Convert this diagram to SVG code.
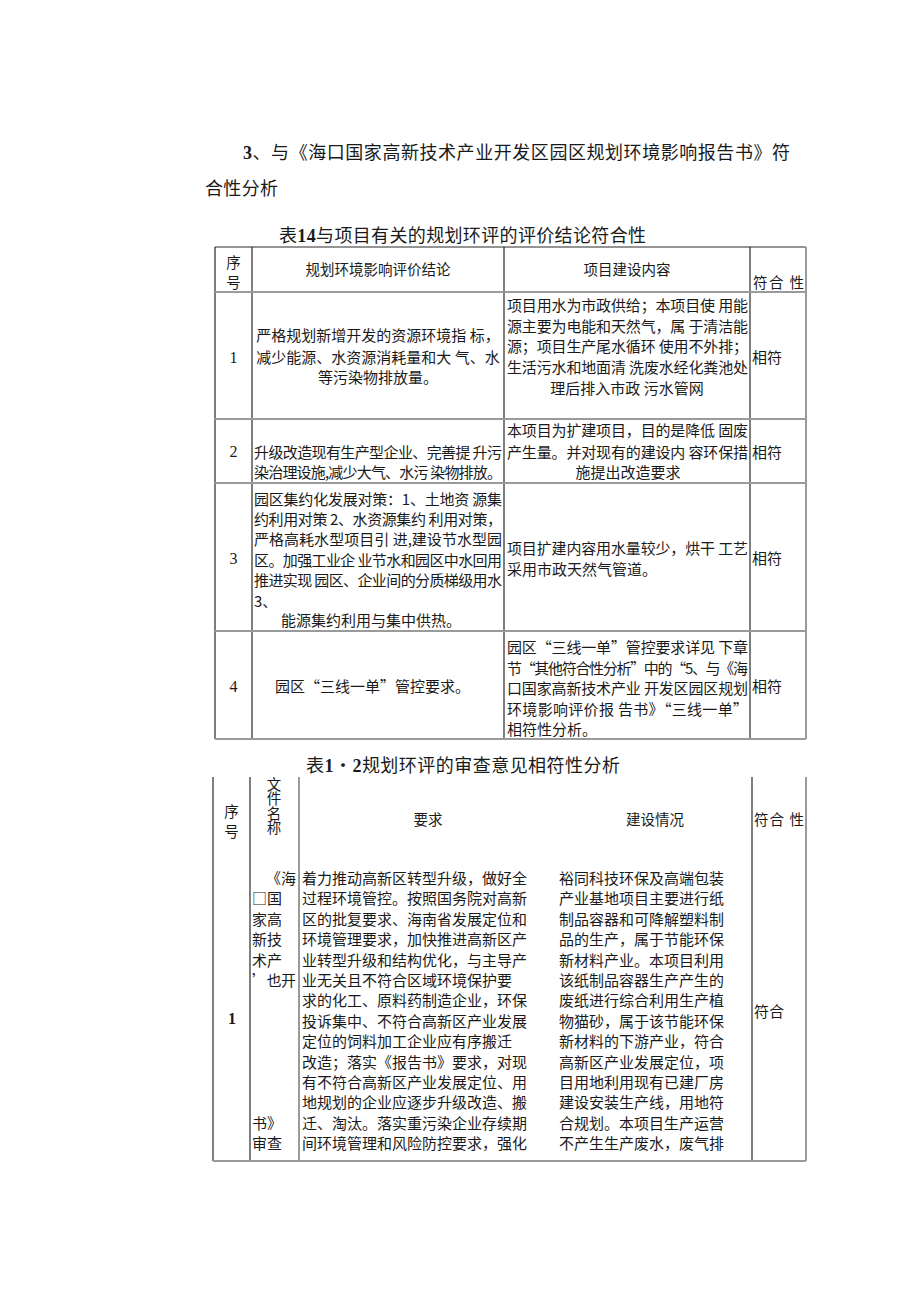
<svg xmlns="http://www.w3.org/2000/svg" width="920" height="1301" viewBox="0 0 920 1301">
<style>
text { font-family: "Noto Sans CJK SC", sans-serif; fill: #1a1a1a; }
.h { font-size: 18px; }
.hd { font-size: 14.5px; }
.b { font-size: 15px; }
.n { font-family: "Liberation Serif", "Noto Sans CJK SC", serif; font-size: 16px; text-anchor: middle; }
.nb { font-family: "Liberation Serif", "Noto Sans CJK SC", serif; font-weight: bold; }
.c { text-anchor: middle; }
.v { writing-mode: vertical-rl; text-orientation: upright; }
.dk { stroke: #2a2a2a; stroke-width: 1.2; fill: none; }
.gr { stroke: #9a9a9a; stroke-width: 2; fill: none; }
</style>
<rect width="920" height="1301" fill="#ffffff"/>

<g id="heading">
<text class="h" x="243" y="159" textLength="547" lengthAdjust="spacing"><tspan class="nb">3</tspan>、与《海口国家高新技术产业开发区园区规划环境影响报告书》符</text>
<text class="h" x="205" y="195" textLength="73" lengthAdjust="spacing">合性分析</text>
</g>

<g id="table1-title">
<text class="h" x="279" y="242" textLength="367" lengthAdjust="spacing">表<tspan class="nb">14</tspan>与项目有关的规划环评的评价结论符合性</text>
</g>

<g id="table1-lines">
<path class="dk" d="M215 247H806M215 247V739M252 247V739M504 247V739M750 247V739"/>
<path class="gr" d="M806 247V739M215 292H806M215 419H806M215 483H806M215 631H806M215 739H806"/>
</g>

<g id="table1-header">
<text class="hd c" x="233.5" y="268">序</text>
<text class="hd c" x="233.5" y="288">号</text>
<text class="hd c" x="378" y="275">规划环境影响评价结论</text>
<text class="hd c" x="627" y="275">项目建设内容</text>
<text class="hd" x="753" y="288" textLength="51" lengthAdjust="spacing">符合 性</text>
</g>

<g id="t1-row1">
<text class="n" x="233.5" y="363">1</text>
<text class="b c" x="378" y="341">严格规划新增开发的资源环境指 标，</text>
<text class="b c" x="378" y="363">减少能源、水资源消耗量和大 气、水</text>
<text class="b c" x="378" y="383">等污染物排放量。</text>
<text class="b" x="507" y="311" textLength="241" lengthAdjust="spacing">项目用水为市政供给；本项目使 用能</text>
<text class="b" x="507" y="332" textLength="241" lengthAdjust="spacing">源主要为电能和天然气，属 于清洁能</text>
<text class="b" x="507" y="352" textLength="241" lengthAdjust="spacing">源；项目生产尾水循环 使用不外排；</text>
<text class="b" x="507" y="373" textLength="241" lengthAdjust="spacing">生活污水和地面清 洗废水经化粪池处</text>
<text class="b c" x="627" y="394">理后排入市政 污水管网</text>
<text class="b" x="752" y="363">相符</text>
</g>

<g id="t1-row2">
<text class="n" x="233.5" y="457">2</text>
<text class="b" x="254" y="458" textLength="248" lengthAdjust="spacing">升级改造现有生产型企业、完善提 升污</text>
<text class="b" x="254" y="478" textLength="248" lengthAdjust="spacing">染治理设施,减少大气、水污 染物排放。</text>
<text class="b" x="507" y="436" textLength="241" lengthAdjust="spacing">本项目为扩建项目，目的是降低 固废</text>
<text class="b" x="507" y="458" textLength="241" lengthAdjust="spacing">产生量。并对现有的建设内 容环保措</text>
<text class="b c" x="628" y="478">施提出改造要求</text>
<text class="b" x="752" y="458">相符</text>
</g>

<g id="t1-row3">
<text class="n" x="233.5" y="564">3</text>
<text class="b" x="254" y="505" textLength="248" lengthAdjust="spacing">园区集约化发展对策：1、土地资 源集</text>
<text class="b" x="254" y="525" textLength="248" lengthAdjust="spacing">约利用对策 2、水资源集约 利用对策，</text>
<text class="b" x="254" y="545" textLength="248" lengthAdjust="spacing">严格高耗水型项目引 进,建设节水型园</text>
<text class="b" x="254" y="566" textLength="248" lengthAdjust="spacing">区。加强工业企 业节水和园区中水回用</text>
<text class="b" x="254" y="586" textLength="248" lengthAdjust="spacing">推进实现 园区、企业间的分质梯级用水</text>
<text class="b" x="254" y="607">3、</text>
<text class="b" x="281" y="626">能源集约利用与集中供热。</text>
<text class="b" x="507" y="554" textLength="241" lengthAdjust="spacing">项目扩建内容用水量较少，烘干 工艺</text>
<text class="b" x="507" y="575">采用市政天然气管道。</text>
<text class="b" x="752" y="564">相符</text>
</g>

<g id="t1-row4">
<text class="n" x="233.5" y="692">4</text>
<text class="b" x="275" y="692">园区“三线一单”管控要求。</text>
<text class="b" x="507" y="653" textLength="241" lengthAdjust="spacing">园区“三线一单”管控要求详见 下章</text>
<text class="b" x="507" y="674" textLength="241" lengthAdjust="spacing">节“其他符合性分析”中的“5、与《海</text>
<text class="b" x="507" y="694" textLength="241" lengthAdjust="spacing">口国家高新技术产业 开发区园区规划</text>
<text class="b" x="507" y="715" textLength="241" lengthAdjust="spacing">环境影响评价报 告书》“三线一单”</text>
<text class="b" x="507" y="735">相符性分析。</text>
<text class="b" x="752" y="692">相符</text>
</g>

<g id="table2-title">
<text class="h" x="306" y="772" textLength="314" lengthAdjust="spacing">表<tspan class="nb">1</tspan>・<tspan class="nb">2</tspan>规划环评的审查意见相符性分析</text>
</g>

<g id="table2-lines">
<path class="dk" d="M213 777V1161M250 777V1161M752 777V1161"/>
<path class="gr" d="M299 777V1161M806 777V1161M213 1161H806"/>
</g>

<g id="table2-header">
<text class="hd c" x="231.5" y="817">序</text>
<text class="hd c" x="231.5" y="837">号</text>
<text class="hd v" x="274" y="777">文件名称</text>
<text class="hd c" x="428" y="825">要求</text>
<text class="hd c" x="655" y="825">建设情况</text>
<text class="hd" x="754" y="825" textLength="50" lengthAdjust="spacing">符合 性</text>
</g>

<g id="t2-row1">
<text class="n nb" x="232" y="1024">1</text>
<text class="b" x="266" y="884">《海</text>
<text class="b" x="252" y="904">□国</text>
<text class="b" x="252" y="925">家高</text>
<text class="b" x="252" y="945">新技</text>
<text class="b" x="252" y="966">术产</text>
<text class="b" x="252" y="986" textLength="44" lengthAdjust="spacing">’也开</text>
<text class="b" x="252" y="1129">书》</text>
<text class="b" x="252" y="1149">审查</text>
<text class="b" x="302" y="884">着力推动高新区转型升级，做好全<tspan x="302" dy="20.4">过程环境管控。按照国务院对高新</tspan><tspan x="302" dy="20.4">区的批复要求、海南省发展定位和</tspan><tspan x="302" dy="20.4">环境管理要求，加快推进高新区产</tspan><tspan x="302" dy="20.4">业转型升级和结构优化，与主导产</tspan><tspan x="302" dy="20.4">业无关且不符合区域环境保护要</tspan><tspan x="302" dy="20.4">求的化工、原料药制造企业，环保</tspan><tspan x="302" dy="20.4">投诉集中、不符合高新区产业发展</tspan><tspan x="302" dy="20.4">定位的饲料加工企业应有序搬迁</tspan><tspan x="302" dy="20.4">改造；落实《报告书》要求，对现</tspan><tspan x="302" dy="20.4">有不符合高新区产业发展定位、用</tspan><tspan x="302" dy="20.4">地规划的企业应逐步升级改造、搬</tspan><tspan x="302" dy="20.4">迁、淘汰。落实重污染企业存续期</tspan><tspan x="302" dy="20.4">间环境管理和风险防控要求，强化</tspan></text>
<text class="b" x="559" y="884">裕同科技环保及高端包装<tspan x="559" dy="20.4">产业基地项目主要进行纸</tspan><tspan x="559" dy="20.4">制品容器和可降解塑料制</tspan><tspan x="559" dy="20.4">品的生产，属于节能环保</tspan><tspan x="559" dy="20.4">新材料产业。本项目利用</tspan><tspan x="559" dy="20.4">该纸制品容器生产产生的</tspan><tspan x="559" dy="20.4">废纸进行综合利用生产植</tspan><tspan x="559" dy="20.4">物猫砂，属于该节能环保</tspan><tspan x="559" dy="20.4">新材料的下游产业，符合</tspan><tspan x="559" dy="20.4">高新区产业发展定位，项</tspan><tspan x="559" dy="20.4">目用地利用现有已建厂房</tspan><tspan x="559" dy="20.4">建设安装生产线，用地符</tspan><tspan x="559" dy="20.4">合规划。本项目生产运营</tspan><tspan x="559" dy="20.4">不产生生产废水，废气排</tspan></text>
<text class="b" x="754" y="1017">符合</text>
</g>
</svg>
